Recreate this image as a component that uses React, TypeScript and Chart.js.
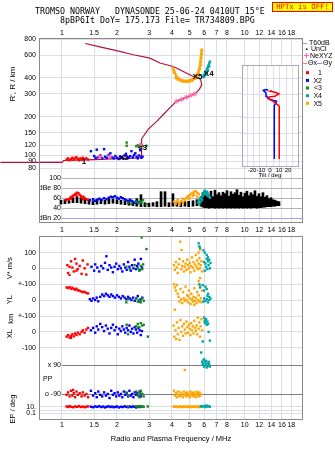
import React, { useEffect, useRef } from 'react';
import { Chart, registerables } from 'chart.js';

Chart.register(...registerables);

const SANS = "'Liberation Sans', 'DejaVu Sans', sans-serif";
const MONO = "'DejaVu Sans Mono', 'Liberation Mono', monospace";

// ---------- texts ----------
const TITLE_LINE_1 = 'TROMSO NORWAY   DYNASONDE 25-06-24 0410UT 15°E';
const TITLE_LINE_2 = '8pBP6It DoY= 175.173 File= TR734809.BPG';
const HPTX_TEXT = 'HPTx is OFF!';
const X_TITLE = 'Radio and Plasma Frequency / MHz';
const R_TITLE = "R', R / km";
const SERIES_LABELS = ['1', 'X2', '<3', 'X4', 'X5'];

// ---------- axes ----------
const FREQ_RANGE = [0.758, 20.6];
const FREQ_TICKS = [1, 1.5, 2, 3, 4, 5, 6, 7, 8, 10, 12, 14, 16, 18];
const R_RANGE = [80, 800];
const R_TICKS = [80, 90, 100, 120, 150, 200, 300, 400, 600, 800];
const DB_RANGE = [11.4, 119.4];
const DB_TICKS = [100, 80, 60, 40, 20];
const DB_LABELS = ['100', 'dBe 80', '60', '40', 'dBn 20'];
const TILT_RANGE = [-255.6, 35.6];
const TILT_BOX = [-31, 31];
const TILT_BOX_R = [82, 500];
const TILT_GRID = [-26, -19, -12, -4.5, 3.5, 10.5, 17.5, 24.5];
const TILT_TICKS = [-20, -10, 0, 10, 20];

const V_RANGE = [-49, 200];
const V_TICKS = [0, 100];
const V_LABELS = ['0', '100'];
const YL_RANGE = [-51, 153];
const YL_TICKS = [0, 100];
const YL_LABELS = ['0', '+-100'];
const XL_RANGE = [-152, 150.5];
const XL_TICKS = [-100, 0, 100];
const XL_LABELS = ['-100', '0', '+-100'];
const PP_RANGE = [-133.5, 146];
const PP_LINES = [90, -90];
const PP_LABELS = ['x 90', 'o -90'];
const EP_RANGE = [0.0024, 480];
const EP_TICKS = [0.1, 1, 10];
const EP_LABELS = ['0.1', '', '10.'];

// ---------- colours ----------
const RED = '#ff0000';
const BLUE = '#0000ff';
const GREEN = '#178a1a';
const TEAL = '#00a6a6';
const ORANGE = '#ffa500';
const SERIES_COLORS = [RED, BLUE, GREEN, TEAL, ORANGE];
const PROFILE_COLOR = '#b0103c';
const PINK = '#ff6aa8';
const GRID = '#dcdce6';
const BORDER = '#8a8a8a';

// ---------- top panel: heights (MHz, km) ----------
const PROFILE = [
  [0.46, 88.5], [1.0, 88.5], [1.02, 91.5], [1.5, 93], [2.0, 94.5], [2.5, 95.5], [2.68, 96.5],
  [2.71, 100], [2.72, 115], [2.73, 134], [2.79, 141], [2.97, 160], [3.3, 184], [3.59, 208],
  [3.9, 235], [4.25, 264], [4.82, 284], [5.34, 300], [5.64, 324], [5.82, 353], [5.75, 386],
  [5.58, 400], [5.23, 410], [4.82, 434], [4.42, 462], [4.06, 490], [3.44, 521], [3.03, 569],
  [2.46, 604], [1.99, 650], [1.61, 696], [1.34, 738],
];
const NEXYZ = [[1.61, 98], [1.83, 98], [2.7, 121], [4.25, 264], [4.52, 272], [4.8, 283], [5.07, 292], [5.34, 300]];
const RED_R = [[1.06, 93], [1.08, 95], [1.1, 92], [1.12, 94], [1.14, 96], [1.16, 93], [1.18, 95], [1.2, 97], [1.22, 94], [1.24, 92], [1.26, 95], [1.28, 93], [1.3, 96], [1.33, 94], [1.36, 95], [1.39, 93]];
const BLUE_R = [[1.44, 108], [1.5, 99], [1.53, 96], [1.55, 111], [1.58, 97], [1.62, 100], [1.66, 95], [1.7, 112], [1.72, 98], [1.76, 96], [1.8, 101], [1.84, 104], [1.88, 97], [1.92, 95], [1.96, 99], [2.0, 96], [2.04, 94], [2.08, 98], [2.12, 97], [2.16, 95], [2.2, 100], [2.24, 103], [2.28, 97], [2.32, 96], [2.36, 99], [2.4, 108], [2.44, 97], [2.48, 101], [2.52, 104], [2.56, 98], [2.6, 95], [2.64, 100], [2.68, 110], [2.72, 96], [2.76, 98]];
const GREEN_R = [[2.26, 126], [2.26, 119], [2.55, 118], [2.6, 120], [2.64, 117], [2.68, 119], [2.72, 121], [2.76, 118], [2.9, 119]];
const ORANGE_R = [[4.05, 478], [4.08, 462], [4.11, 450], [4.14, 438], [4.18, 426], [4.22, 414], [4.27, 404], [4.33, 396], [4.4, 390], [4.48, 385], [4.56, 382], [4.64, 380], [4.72, 379], [4.8, 378], [4.9, 380], [5.0, 382], [5.1, 386], [5.2, 391], [5.3, 398], [5.38, 407], [5.45, 418], [5.52, 430], [5.58, 445], [5.62, 460], [5.66, 478], [5.68, 497], [5.7, 518], [5.72, 540], [5.74, 563], [5.76, 588], [5.78, 612], [5.8, 638], [5.81, 662], [4.1, 440], [4.2, 398], [4.3, 388], [4.45, 378], [4.6, 374], [4.75, 372], [4.9, 373], [5.05, 376], [5.2, 382], [5.35, 394], [5.5, 412], [5.62, 432], [5.7, 470], [5.75, 500], [5.78, 530], [5.8, 570], [5.83, 610], [5.84, 650]];
const TEAL_R = [[5.9, 405], [5.95, 414], [6.0, 423], [6.05, 431], [6.1, 440], [6.15, 450], [6.2, 461], [6.25, 474], [6.3, 488], [6.35, 503], [6.4, 518], [6.45, 535], [6.0, 408], [6.1, 422], [6.2, 438], [6.3, 460], [6.4, 490]];
const TRACE_LABEL_F = [1.32, 2.18, 2.76, 6.36, 5.52];
const TRACE_LABEL_R = [90, 96, 115, 428, 405];

// tilt inset (deg, km)
const TILT_X = [[10.3, 94], [10.3, 241], [7.4, 251], [3.7, 263], [-1.9, 276], [-1, 284], [5.6, 288], [10, 300], [5.6, 309], [0, 315], [1.9, 320]];
const TILT_Y = [[4.8, 94], [4.8, 243], [7.4, 263], [3, 268], [-1.9, 276], [-3.7, 288], [-4.4, 305], [-7.4, 320], [-4.4, 324], [-1.9, 320]];

// ---------- amplitude (MHz, dB) ----------
const UNCL = [
  [1.0, 47, 55], [1.051, 48, 56], [1.106, 49, 57], [1.163, 50, 60], [1.224, 50, 62], [1.287, 49, 60], [1.353, 48, 57], [1.423, 47, 55], [1.497, 46, 54], [1.574, 47, 56], [1.655, 48, 57], [1.741, 47, 55], [1.83, 48, 58], [1.925, 49, 57], [2.025, 48, 56], [2.13, 47, 55], [2.24, 46, 54], [2.355, 45, 53], [2.477, 44, 52], [2.6, 43, 58], [2.74, 42, 66], [2.88, 42, 50], [3.03, 42, 49], [3.19, 43, 50], [3.35, 42, 52], [3.53, 42, 72], [3.71, 43, 72], [3.9, 42, 50], [4.1, 43, 68], [4.31, 43, 52], [4.53, 42, 51], [4.77, 43, 52], [5.0, 42, 53], [5.28, 43, 54], [5.55, 44, 56], [5.84, 43, 62],
  [5.986, 41, 70], [6.14, 40, 66], [6.297, 40, 72], [6.458, 39, 60], [6.622, 40, 73], [6.792, 40, 62], [6.965, 39, 75], [7.143, 40, 66], [7.325, 39, 70], [7.513, 40, 64], [7.704, 39, 71], [7.9, 40, 68], [8.102, 39, 74], [8.309, 40, 63], [8.521, 39, 72], [8.738, 40, 67], [8.962, 39, 70], [9.19, 40, 76], [9.425, 39, 65], [9.665, 40, 71], [9.912, 39, 62], [10.16, 40, 69], [10.42, 39, 73], [10.69, 40, 64], [10.96, 39, 70], [11.24, 40, 66], [11.53, 40, 74], [11.82, 39, 63], [12.13, 40, 68], [12.43, 40, 62], [12.75, 41, 70], [13.08, 41, 61], [13.41, 42, 64], [13.76, 42, 58], [14.11, 42, 60], [14.47, 43, 56], [14.84, 43, 55], [15.22, 44, 53], [15.61, 44, 52],
];
const RED_DB = [[1.05, 55], [1.07, 57], [1.09, 56], [1.11, 60], [1.13, 62], [1.15, 64], [1.17, 66], [1.19, 68], [1.21, 70], [1.23, 69], [1.25, 66], [1.27, 63], [1.29, 60], [1.31, 62], [1.33, 59], [1.35, 57], [1.38, 56], [1.12, 58], [1.2, 64], [1.3, 57]];
const BLUE_DB = [[1.42, 55], [1.48, 57], [1.52, 54], [1.56, 56], [1.6, 58], [1.65, 56], [1.7, 59], [1.75, 57], [1.8, 60], [1.85, 62], [1.9, 61], [1.95, 63], [2.0, 60], [2.05, 58], [2.1, 61], [2.15, 59], [2.2, 57], [2.25, 55], [2.3, 53], [2.35, 56], [2.4, 54], [2.45, 52], [2.5, 50], [2.55, 53], [2.6, 51], [2.7, 50]];
const GREEN_DB = [[2.3, 50], [2.4, 48], [2.55, 52], [2.62, 49], [2.68, 53], [2.72, 50], [2.78, 55], [2.9, 47]];
const ORANGE_DB = [[4.1, 52], [4.2, 48], [4.3, 55], [4.4, 50], [4.5, 53], [4.6, 58], [4.7, 55], [4.8, 60], [4.9, 63], [5.0, 65], [5.1, 68], [5.2, 70], [5.3, 72], [5.4, 73], [5.5, 70], [5.6, 67], [4.6, 50], [4.9, 58], [5.2, 64], [5.5, 62], [4.4, 46], [4.25, 52], [5.0, 59], [5.3, 66]];
const TEAL_DB = [[5.55, 50], [5.6, 55], [5.65, 47], [5.7, 58], [5.75, 52], [5.8, 60], [5.85, 56], [5.9, 64], [5.95, 68], [6.0, 72], [6.05, 74], [6.1, 70], [6.15, 66], [6.2, 72], [6.25, 68], [6.3, 63], [6.35, 66], [6.4, 62], [6.45, 60]];

// ---------- lower panel ----------
const RED_V = [[1.07, 20], [1.08, -30], [1.1, -45], [1.12, 45], [1.14, 5], [1.16, -20], [1.18, 60], [1.2, 30], [1.22, -5], [1.25, 15], [1.28, -35], [1.3, 50], [1.33, 0], [1.36, -40], [1.38, 25], [1.1, 10], [1.2, -15]];
const BLUE_V = [[1.45, 10], [1.5, -15], [1.52, 25], [1.56, 5], [1.6, -20], [1.64, 15], [1.68, 0], [1.72, 35], [1.75, 77], [1.78, -10], [1.82, 20], [1.86, 5], [1.9, -25], [1.94, 10], [1.98, 30], [2.02, -5], [2.06, 15], [2.1, 0], [2.14, -20], [2.18, 25], [2.22, 5], [2.26, -10], [2.3, 40], [2.34, 10], [2.38, -15], [2.42, 20], [2.46, 0], [2.5, 55], [2.54, -5], [2.58, 15], [2.62, 30], [2.66, -10], [2.7, 60], [2.74, 5]];
const GREEN_V = [[2.25, 10], [2.35, -5], [2.5, 20], [2.6, 0], [2.65, -15], [2.7, 15], [2.75, -5], [2.78, 25], [2.73, 197], [2.9, 123]];
const ORANGE_V = [[4.44, 170], [4.52, 117], [4.1, 20], [4.15, -10], [4.2, 40], [4.25, 5], [4.3, -30], [4.35, 25], [4.4, 60], [4.5, -5], [4.55, 15], [4.6, 45], [4.65, -20], [4.7, 10], [4.75, 30], [4.8, -10], [4.85, 55], [4.9, 20], [4.95, 0], [5.0, 35], [5.05, -25], [5.1, 15], [5.15, 70], [5.2, 5], [5.25, 40], [5.3, -15], [5.35, 25], [5.4, 85], [5.45, 10], [5.5, 50], [5.55, -5], [5.6, 30], [5.65, 65], [5.7, 0], [5.75, 20], [5.8, 45], [5.85, -20], [5.6, 100], [5.7, 120]];
const TEAL_V = [[5.6, 160], [5.65, 140], [5.7, 130], [5.95, 115], [6.05, 100], [6.2, 85], [6.3, 70], [6.4, 55], [6.0, 40], [6.1, 30], [6.15, 10], [6.25, -5], [6.35, 20], [6.45, 0], [6.5, 35], [6.05, -15], [6.3, 45], [6.2, 60]];

const RED_YL = [[1.06, 80], [1.08, 76], [1.1, 82], [1.12, 72], [1.14, 78], [1.16, 70], [1.18, 66], [1.2, 72], [1.22, 62], [1.24, 60], [1.27, 55], [1.3, 50], [1.33, 52], [1.36, 45], [1.39, 42]];
const BLUE_YL = [[1.42, 5], [1.45, -5], [1.48, 10], [1.52, 0], [1.55, 15], [1.58, -8], [1.62, 20], [1.66, 35], [1.7, 25], [1.74, 40], [1.78, 30], [1.82, 20], [1.86, 35], [1.9, 25], [1.95, 15], [2.0, 30], [2.05, 20], [2.1, 10], [2.15, 25], [2.2, 15], [2.25, 5], [2.3, 20], [2.35, 10], [2.4, 0], [2.45, 15], [2.5, -5], [2.55, 10], [2.6, 25], [2.65, -10], [2.7, 5], [2.75, 15]];
const GREEN_YL = [[2.25, -15], [2.3, 5], [2.55, 10], [2.6, -10], [2.65, 0], [2.7, -15], [2.75, 10], [2.8, -5]];
const ORANGE_YL = [[4.1, 100], [4.15, 80], [4.2, 60], [4.25, 95], [4.3, 40], [4.35, 20], [4.4, -10], [4.45, 70], [4.5, 5], [4.55, -20], [4.6, 50], [4.65, 10], [4.7, -5], [4.75, 85], [4.8, 0], [4.85, 30], [4.9, -15], [4.95, 60], [5.0, 10], [5.05, -25], [5.1, 40], [5.15, 5], [5.2, -10], [5.25, 20], [5.3, 75], [5.35, -5], [5.4, 15], [5.45, -20], [5.5, 50], [5.55, 0], [5.6, 30], [5.65, -10], [5.7, 90], [5.75, 10], [5.8, -15], [5.85, 60], [5.3, -30], [4.9, 25], [5.6, 120], [5.7, 140]];
const TEAL_YL = [[5.65, 100], [5.7, 80], [5.9, 95], [6.0, 60], [6.1, 85], [6.2, 70], [6.3, 40], [6.4, 20], [6.0, 10], [6.1, -5], [6.2, 5], [6.3, -15], [6.4, 0], [6.5, 10], [5.95, -10], [6.25, 25]];

const RED_XL = [[1.06, -30], [1.08, -20], [1.1, -35], [1.12, -25], [1.14, -15], [1.16, -28], [1.18, -10], [1.2, -20], [1.22, -5], [1.25, -15], [1.28, 0], [1.3, 10], [1.33, -5], [1.36, 15], [1.39, 25], [1.12, -38]];
const BLUE_XL = [[1.44, 10], [1.48, 25], [1.52, -5], [1.55, 35], [1.58, 15], [1.62, 50], [1.66, 30], [1.7, 5], [1.74, 40], [1.78, 20], [1.82, -10], [1.86, 25], [1.9, 45], [1.94, 10], [1.98, 30], [2.02, -15], [2.06, 20], [2.1, 5], [2.14, 35], [2.18, 15], [2.22, -5], [2.26, 25], [2.3, 10], [2.34, 40], [2.38, 0], [2.42, 20], [2.46, -10], [2.5, 30], [2.54, 15], [2.58, -5], [2.62, 25], [2.66, 10], [2.7, -20], [2.74, 5]];
const GREEN_XL = [[2.26, 45], [2.3, -15], [2.55, 35], [2.6, 50], [2.65, 30], [2.7, 55], [2.75, 40], [2.8, 45], [2.95, -30]];
const ORANGE_XL = [[4.15, 140], [4.08, 40], [4.12, -30], [4.18, 10], [4.22, -45], [4.26, 60], [4.3, -15], [4.35, 25], [4.4, -50], [4.45, 75], [4.5, 0], [4.55, 35], [4.6, -25], [4.65, 50], [4.7, 15], [4.75, -10], [4.8, 65], [4.85, 30], [4.9, -5], [4.95, 45], [5.0, 20], [5.05, -20], [5.1, 55], [5.15, 10], [5.2, 35], [5.25, -10], [5.3, 70], [5.35, 25], [5.4, 5], [5.45, 40], [5.5, -15], [5.55, 90], [5.6, 20], [5.65, 60], [5.7, -30], [5.75, 35], [5.8, 80], [5.85, 10]];
const TEAL_XL = [[6.0, 90], [6.05, 70], [6.1, 55], [6.15, 80], [6.2, 45], [6.25, 65], [6.3, 50], [6.1, 75], [6.35, 0], [5.9, -60], [6.45, -55], [6.05, 60], [5.78, -130]];

const RED_PP = [[1.06, -95], [1.08, -80], [1.1, -105], [1.12, -70], [1.14, -100], [1.16, -85], [1.18, -110], [1.2, -75], [1.22, -95], [1.25, -85], [1.28, -105], [1.3, -80], [1.33, -100], [1.36, -90], [1.39, -110], [1.15, -65]];
const BLUE_PP = [[1.44, -70], [1.48, -100], [1.52, -85], [1.55, -110], [1.58, -75], [1.62, -95], [1.66, -105], [1.7, -80], [1.74, -100], [1.78, -90], [1.82, -115], [1.86, -70], [1.9, -95], [1.94, -85], [1.98, -105], [2.02, -80], [2.06, -100], [2.1, -90], [2.14, -110], [2.18, -75], [2.22, -95], [2.26, -85], [2.3, -105], [2.34, -70], [2.38, -100], [2.42, -90], [2.46, -110], [2.5, -80], [2.54, -95], [2.58, -85], [2.62, -100], [2.66, -75], [2.7, -105], [2.74, -90]];
const GREEN_PP = [[2.25, -80], [2.3, -100], [2.55, -75], [2.6, -95], [2.65, -110], [2.7, -70], [2.75, -90], [2.8, -105], [2.68, -85]];
const ORANGE_PP = [[4.1, -70], [4.15, -100], [4.2, -85], [4.25, -110], [4.3, -75], [4.35, -95], [4.4, -105], [4.45, -80], [4.5, -100], [4.55, -90], [4.6, -110], [4.65, -75], [4.7, -95], [4.75, -85], [4.8, -105], [4.85, -80], [4.9, -100], [4.95, -90], [5.0, -110], [5.05, -75], [5.1, -95], [5.15, -85], [5.2, -105], [5.25, -80], [5.3, -100], [5.35, -90], [5.4, -110], [5.45, -75], [5.5, -95], [5.55, -85], [5.6, -105], [5.65, -80], [5.7, -100], [5.75, -90], [4.7, 59]];
const TEAL_PP = [[5.85, 110], [5.9, 95], [5.95, 120], [6.0, 80], [6.05, 105], [6.1, 90], [6.15, 115], [6.2, 75], [6.25, 100], [6.3, 85], [6.35, 110], [6.4, 95], [6.45, 80], [6.0, 125]];

const RED_EP = [[1.06, 12], [1.08, 8], [1.1, 15], [1.12, 10], [1.15, 7], [1.18, 12], [1.21, 9], [1.24, 14], [1.27, 8], [1.3, 11], [1.33, 7], [1.36, 10], [1.39, 13]];
const BLUE_EP = [[1.44, 10], [1.48, 7], [1.52, 12], [1.56, 9], [1.6, 14], [1.64, 8], [1.68, 11], [1.72, 6], [1.76, 10], [1.8, 13], [1.84, 8], [1.88, 11], [1.92, 7], [1.96, 9], [2.0, 12], [2.05, 6], [2.1, 10], [2.15, 8], [2.2, 13], [2.25, 9], [2.3, 7], [2.35, 11], [2.4, 8], [2.45, 12], [2.5, 9], [2.55, 6], [2.6, 10], [2.66, 8], [2.72, 11]];
const GREEN_EP = [[2.3, 12], [2.55, 14], [2.6, 10], [2.65, 15], [2.7, 11], [2.75, 13], [2.8, 9], [2.95, 12]];
const ORANGE_EP = [[4.08, 11], [4.15, 9], [4.22, 12], [4.3, 8], [4.38, 10], [4.45, 13], [4.52, 7], [4.6, 11], [4.68, 9], [4.75, 12], [4.82, 8], [4.9, 10], [4.98, 13], [5.05, 7], [5.12, 11], [5.2, 9], [5.28, 12], [5.35, 8], [5.42, 10], [5.5, 13], [5.58, 7], [5.65, 11], [5.72, 9], [5.8, 12]];
const TEAL_EP = [[5.75, 14], [5.85, 10], [5.95, 16], [6.05, 12], [6.15, 18], [6.25, 11], [6.35, 15], [6.45, 9], [6.2, 20], [6.1, 8]];

// ---------- helpers ----------
const tickFont = { family: SANS, size: 7 };
const xy = (arr: number[][]) => arr.map(([x, y]) => ({ x, y }));

function dots(arr: number[][], color: string, yAxisID: string, xAxisID = 'x') {
  return {
    type: 'scatter', data: xy(arr), xAxisID, yAxisID, showLine: false,
    pointStyle: 'rect', pointRadius: 1.7, pointHoverRadius: 1.7,
    backgroundColor: color, borderColor: color, pointBorderWidth: 0, borderWidth: 0,
  };
}
function line(arr: number[][], color: string, xAxisID: string, yAxisID: string, width: number, clip?: any) {
  const ds: any = {
    type: 'scatter', data: xy(arr), xAxisID, yAxisID, showLine: true, tension: 0, fill: false,
    pointRadius: 0, pointHoverRadius: 0, borderColor: color, borderWidth: width, backgroundColor: color,
  };
  if (clip !== undefined) ds.clip = clip;
  return ds;
}
function freqAxis(position: string, withGrid: boolean, height: number, padding: number) {
  return {
    type: 'logarithmic', position, min: FREQ_RANGE[0], max: FREQ_RANGE[1], bounds: 'data', offset: false,
    afterBuildTicks: (s: any) => { s.ticks = FREQ_TICKS.map((v) => ({ value: v })); },
    afterFit: (s: any) => { s.height = height; },
    grid: { display: withGrid, color: GRID, drawTicks: false, offset: false },
    border: { display: false },
    ticks: { font: tickFont, color: '#000', autoSkip: false, maxRotation: 0, minRotation: 0, padding, callback: (v: any) => String(v) },
  };
}
function leftAxis(type: string, range: number[], ticks: number[], labels: string[], stack: string, weight: number, stackWeight: number, show: boolean) {
  return {
    type, position: 'left', stack, weight, stackWeight, min: range[0], max: range[1], bounds: 'data',
    afterBuildTicks: (s: any) => { s.ticks = ticks.map((v) => ({ value: v })); },
    afterFit: (s: any) => { s.width = 40; },
    grid: { display: show, color: GRID, drawTicks: false },
    border: { display: false },
    ticks: { display: show, font: tickFont, color: '#000', padding: 4, autoSkip: false, callback: (v: any) => { const i = ticks.indexOf(v); return i >= 0 ? labels[i] : ''; } },
  };
}
function hline(ctx: any, x1: number, x2: number, y: number) {
  const py = Math.round(y) + 0.5;
  ctx.beginPath(); ctx.moveTo(x1, py); ctx.lineTo(x2, py); ctx.stroke();
}
function vline(ctx: any, x: number, y1: number, y2: number) {
  const px = Math.round(x) + 0.5;
  ctx.beginPath(); ctx.moveTo(px, y1); ctx.lineTo(px, y2); ctx.stroke();
}
function rotated(ctx: any, text: string, x: number, y: number) {
  ctx.save(); ctx.translate(x, y); ctx.rotate(-Math.PI / 2);
  ctx.textAlign = 'center'; ctx.textBaseline = 'middle'; ctx.fillText(text, 0, 0); ctx.restore();
}
function frame(ctx: any, ca: any) {
  ctx.strokeStyle = BORDER; ctx.lineWidth = 1;
  ctx.strokeRect(Math.round(ca.left) - 0.5, Math.round(ca.top) - 0.5, Math.round(ca.right - ca.left) + 1, Math.round(ca.bottom - ca.top) + 1);
}

// ---------- plugins ----------
const topDecor = {
  id: 'topDecor',
  beforeDatasetsDraw(chart: any) {
    const { ctx, chartArea: ca } = chart;
    const { x, yDb, yR, xt } = chart.scales;
    const x1 = x.getPixelForValue(1);
    ctx.save();
    ctx.lineWidth = 1;
    ctx.font = `7px ${SANS}`;
    ctx.textAlign = 'right'; ctx.textBaseline = 'middle';
    DB_TICKS.forEach((v, i) => {
      const py = yDb.getPixelForValue(v);
      ctx.strokeStyle = v === 20 ? '#a4a4f4' : '#b4b4b4';
      hline(ctx, x1, ca.right, py);
      ctx.fillStyle = '#000';
      ctx.fillText(DB_LABELS[i], x1 - 1, py + 0.5);
    });
    // tilt inset box
    const l = xt.getPixelForValue(TILT_BOX[0]);
    const r = xt.getPixelForValue(TILT_BOX[1]);
    const t = yR.getPixelForValue(TILT_BOX_R[1]);
    const b = yR.getPixelForValue(TILT_BOX_R[0]);
    ctx.fillStyle = '#fff'; ctx.fillRect(l, t, r - l, b - t);
    ctx.strokeStyle = GRID;
    R_TICKS.forEach((v) => { if (v > TILT_BOX_R[0] && v < TILT_BOX_R[1]) hline(ctx, l, r, yR.getPixelForValue(v)); });
    TILT_GRID.forEach((d) => vline(ctx, xt.getPixelForValue(d), t, b));
    ctx.strokeStyle = '#a8a8b8';
    ctx.strokeRect(Math.round(l) + 0.5, Math.round(t) + 0.5, Math.round(r - l), Math.round(b - t));
    ctx.restore();
  },
  afterDatasetsDraw(chart: any) {
    const { ctx } = chart;
    const { x, yR } = chart.scales;
    ctx.save();
    ctx.fillStyle = '#000'; ctx.font = `bold 8px ${SANS}`;
    ctx.textAlign = 'center'; ctx.textBaseline = 'middle';
    SERIES_LABELS.forEach((s, i) => ctx.fillText(s, x.getPixelForValue(TRACE_LABEL_F[i]), yR.getPixelForValue(TRACE_LABEL_R[i])));
    ctx.restore();
  },
  afterDraw(chart: any) {
    const { ctx, chartArea: ca } = chart;
    const { yR, xt } = chart.scales;
    ctx.save();
    frame(ctx, ca);
    // titles
    ctx.fillStyle = '#000'; ctx.font = `8.3px ${MONO}`;
    ctx.textAlign = 'left'; ctx.textBaseline = 'middle';
    ctx.fillText(TITLE_LINE_1, 35, 12);
    ctx.fillText(TITLE_LINE_2, 60, 20.5);
    ctx.fillStyle = '#ffff00'; ctx.fillRect(272, 2, 61, 10);
    ctx.strokeStyle = '#ff0000'; ctx.strokeRect(272.5, 2.5, 60, 9);
    ctx.fillStyle = '#ff0000'; ctx.font = `7.3px ${MONO}`; ctx.textAlign = 'center';
    ctx.fillText(HPTX_TEXT, 302.5, 7.5);
    // axis title
    ctx.fillStyle = '#000'; ctx.font = `8px ${SANS}`;
    rotated(ctx, R_TITLE, 13, 84);
    // inset tick labels
    const b = yR.getPixelForValue(TILT_BOX_R[0]);
    ctx.font = `6px ${SANS}`; ctx.textAlign = 'center'; ctx.textBaseline = 'middle';
    TILT_TICKS.forEach((d) => ctx.fillText(String(d), xt.getPixelForValue(d), b + 3.5));
    ctx.fillText('Tilt / deg', xt.getPixelForValue(0), b + 8.5);
    // legend
    const lx = ca.right;
    ctx.font = `7px ${SANS}`; ctx.textAlign = 'left';
    ctx.lineWidth = 1;
    ctx.strokeStyle = '#a0a0a0'; hline(ctx, lx, lx + 5, 42.5);
    ctx.fillStyle = '#000'; ctx.fillText('T60dB', lx + 7, 43);
    ctx.fillRect(lx + 4, 48.5, 1.5, 1.5); ctx.fillText('UnCl', lx + 9, 49.5);
    ctx.strokeStyle = PINK;
    ctx.beginPath(); ctx.moveTo(lx + 2, 55.5); ctx.lineTo(lx + 7, 55.5); ctx.moveTo(lx + 4.5, 53); ctx.lineTo(lx + 4.5, 58); ctx.stroke();
    ctx.fillText('NeXYZ', lx + 8, 56);
    ctx.strokeStyle = '#ff7a7a'; hline(ctx, lx, lx + 5, 62.5);
    ctx.fillText('\u0398x', lx + 6, 63);
    ctx.strokeStyle = '#8a8aff'; hline(ctx, lx + 15, lx + 20, 62.5);
    ctx.fillText('\u0398y', lx + 21, 63);
    ctx.textAlign = 'right';
    SERIES_LABELS.forEach((s, i) => {
      const y = 72.7 + i * 7.65;
      ctx.fillStyle = SERIES_COLORS[i]; ctx.fillRect(lx + 4, y - 1.5, 3, 3);
      ctx.fillStyle = '#000'; ctx.fillText(s, lx + 20, y + 0.5);
    });
    ctx.restore();
  },
};

const bottomDecor = {
  id: 'bottomDecor',
  beforeDatasetsDraw(chart: any) {
    const { ctx, chartArea: ca } = chart;
    const { x, yPP } = chart.scales;
    const x1 = x.getPixelForValue(1);
    ctx.save();
    ctx.strokeStyle = '#7c7c7c'; ctx.lineWidth = 1;
    ctx.font = `7px ${SANS}`; ctx.fillStyle = '#000'; ctx.textBaseline = 'middle';
    PP_LINES.forEach((v, i) => {
      const py = yPP.getPixelForValue(v);
      hline(ctx, x1, ca.right, py);
      ctx.textAlign = 'right';
      ctx.fillText(PP_LABELS[i], x1 - 1, py + 0.5);
    });
    ctx.textAlign = 'left';
    ctx.fillText('PP', ca.left + 3, yPP.getPixelForValue(0));
    ctx.restore();
  },
  afterDraw(chart: any) {
    const { ctx, chartArea: ca } = chart;
    const { yV, yYL, yXL, yEP } = chart.scales;
    ctx.save();
    frame(ctx, ca);
    ctx.fillStyle = '#000'; ctx.font = `7.5px ${SANS}`;
    rotated(ctx, 'V* m/s', 10, yV.getPixelForValue(0));
    rotated(ctx, 'YL', 10, yYL.getPixelForValue(2));
    rotated(ctx, 'km', 11, yXL.getPixelForValue(82));
    rotated(ctx, 'XL', 10, yXL.getPixelForValue(-12));
    rotated(ctx, 'EP / deg', 13, yEP.getPixelForValue(2.1));
    ctx.textAlign = 'center'; ctx.textBaseline = 'middle';
    ctx.fillText(X_TITLE, (ca.left + ca.right) / 2, 439);
    ctx.restore();
  },
};

function topConfig(): any {
  return {
    type: 'scatter',
    data: {
      datasets: [
        { ...line([], PINK, 'x', 'yR', 1), data: xy(NEXYZ), showLine: false, pointStyle: 'star', pointRadius: 2.5, pointBorderWidth: 1, borderWidth: 1 },
        dots(ORANGE_R, ORANGE, 'yR'), dots(TEAL_R, TEAL, 'yR'), dots(GREEN_R, GREEN, 'yR'),
        dots(BLUE_R, BLUE, 'yR'), dots(RED_R, RED, 'yR'),
        line(PROFILE, PROFILE_COLOR, 'x', 'yR', 1.2, false),
        line(TILT_X, RED, 'xt', 'yR', 1.5), line(TILT_Y, BLUE, 'xt', 'yR', 1.5),
        dots(TEAL_DB, TEAL, 'yDb'), dots(ORANGE_DB, ORANGE, 'yDb'), dots(GREEN_DB, GREEN, 'yDb'),
        dots(BLUE_DB, BLUE, 'yDb'), dots(RED_DB, RED, 'yDb'),
        { type: 'bar', data: UNCL.map(([f, lo, hi]) => ({ x: f, y: [lo, hi] })), xAxisID: 'x', yAxisID: 'yDb', backgroundColor: '#000', borderWidth: 0, barThickness: 2 },
      ],
    },
    options: {
      responsive: false, animation: false, devicePixelRatio: 1, events: [],
      layout: { padding: { left: 0, right: 33, top: 0, bottom: 0 } },
      plugins: { legend: { display: false }, tooltip: { enabled: false }, title: { display: false } },
      scales: {
        x: freqAxis('top', true, 39, 2),
        x2: freqAxis('bottom', false, 229, 4),
        xt: { type: 'linear', display: false, min: TILT_RANGE[0], max: TILT_RANGE[1], bounds: 'data' },
        yR: leftAxis('logarithmic', R_RANGE, R_TICKS, R_TICKS.map(String), 'top', 2, 129, true),
        yDb: leftAxis('linear', DB_RANGE, DB_TICKS, DB_LABELS, 'top', 1, 54, false),
      },
    },
    plugins: [topDecor],
  };
}

function bottomConfig(): any {
  return {
    type: 'scatter',
    data: {
      datasets: [
        dots(TEAL_V, TEAL, 'yV'), dots(ORANGE_V, ORANGE, 'yV'), dots(GREEN_V, GREEN, 'yV'), dots(BLUE_V, BLUE, 'yV'), dots(RED_V, RED, 'yV'),
        dots(TEAL_YL, TEAL, 'yYL'), dots(ORANGE_YL, ORANGE, 'yYL'), dots(GREEN_YL, GREEN, 'yYL'), dots(BLUE_YL, BLUE, 'yYL'), dots(RED_YL, RED, 'yYL'),
        dots(TEAL_XL, TEAL, 'yXL'), dots(ORANGE_XL, ORANGE, 'yXL'), dots(GREEN_XL, GREEN, 'yXL'), dots(BLUE_XL, BLUE, 'yXL'), dots(RED_XL, RED, 'yXL'),
        dots(TEAL_PP, TEAL, 'yPP'), dots(ORANGE_PP, ORANGE, 'yPP'), dots(GREEN_PP, GREEN, 'yPP'), dots(BLUE_PP, BLUE, 'yPP'), dots(RED_PP, RED, 'yPP'),
        dots(TEAL_EP, TEAL, 'yEP'), dots(ORANGE_EP, ORANGE, 'yEP'), dots(GREEN_EP, GREEN, 'yEP'), dots(BLUE_EP, BLUE, 'yEP'), dots(RED_EP, RED, 'yEP'),
      ],
    },
    options: {
      responsive: false, animation: false, devicePixelRatio: 1, events: [],
      layout: { padding: { left: 0, right: 33, top: 237, bottom: 0 } },
      plugins: { legend: { display: false }, tooltip: { enabled: false }, title: { display: false } },
      scales: {
        x: freqAxis('bottom', true, 32, 2),
        yV: leftAxis('linear', V_RANGE, V_TICKS, V_LABELS, 'low', 5, 39, true),
        yYL: leftAxis('linear', YL_RANGE, YL_TICKS, YL_LABELS, 'low', 4, 32, true),
        yXL: leftAxis('linear', XL_RANGE, XL_TICKS, XL_LABELS, 'low', 3, 48, true),
        yPP: leftAxis('linear', PP_RANGE, [0], [''], 'low', 2, 45, false),
        yEP: leftAxis('logarithmic', EP_RANGE, EP_TICKS, EP_LABELS, 'low', 1, 18, true),
      },
    },
    plugins: [bottomDecor],
  };
}

export default function App() {
  const topRef = useRef<HTMLCanvasElement | null>(null);
  const botRef = useRef<HTMLCanvasElement | null>(null);
  useEffect(() => {
    const c1 = new Chart(topRef.current as any, topConfig());
    const c2 = new Chart(botRef.current as any, bottomConfig());
    return () => { c1.destroy(); c2.destroy(); };
  }, []);
  return (
    <div style={{ position: 'absolute', left: 0, top: 0, width: 335, height: 451, background: '#fff' }}>
      <canvas ref={topRef} width={335} height={451} style={{ position: 'absolute', left: 0, top: 0 }} />
      <canvas ref={botRef} width={335} height={451} style={{ position: 'absolute', left: 0, top: 0 }} />
    </div>
  );
}
